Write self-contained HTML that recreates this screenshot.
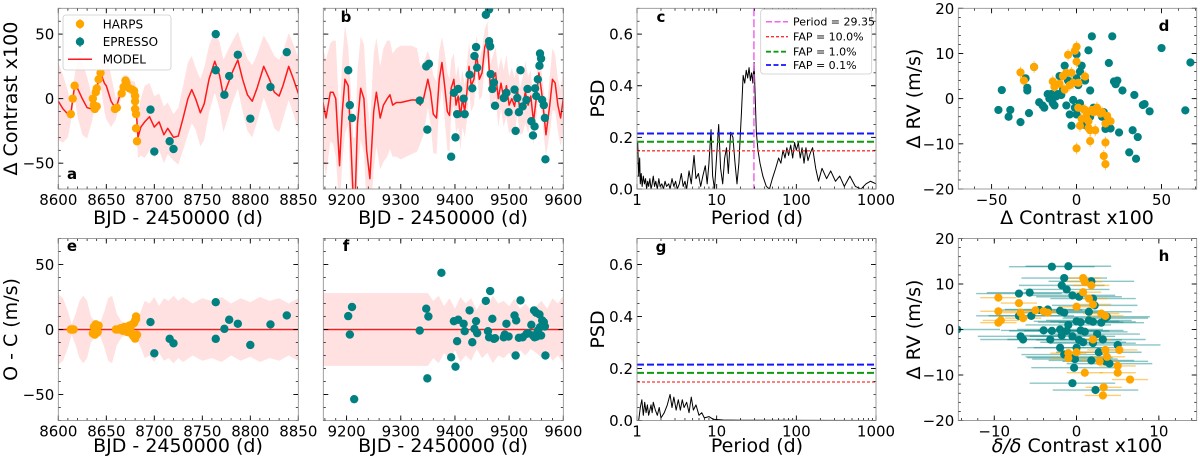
<!DOCTYPE html>
<html><head><meta charset="utf-8">
<style>
html,body{margin:0;padding:0;background:#fff;}
svg{display:block;font-family:"DejaVu Sans","Liberation Sans",sans-serif;}
</style></head>
<body>
<svg id="fig" width="1200" height="459" viewBox="0 0 1200 459" xmlns="http://www.w3.org/2000/svg"></svg>
<script>
// ---------- DATA ----------
const harpsA_x=[8613,8615,8617,8636,8637,8638,8639,8640,8640,8642,8644,8659,8661,8666,8668,8670,8671,8674,8677,8679,8680,8680,8680,8681,8681,8682];
const harpsA_y=[-12,0,10,0,-5,-8,5,-6,8,15,20,-8,-7,4,9,14,12,8,7,6,2,-2,-8,-12,-23,-33];
const espA_x=[8696,8700,8716,8720,8764,8764,8773,8778,8787,8800,8821,8838];
const espA_y=[-8.5,-41,-33,-39,50,22,3,17.5,34,-15.5,9,36];
const modelA_x=[8600,8605,8610,8613,8617,8620,8625,8630,8635,8638,8642,8645,8648,8650,8655,8660,8665,8668,8672,8676,8680,8683,8686,8690,8695,8700,8705,8710,8714,8720,8725,8730,8735,8739,8743,8748,8752,8757,8763,8768,8772,8777,8781,8787,8792,8797,8802,8807,8814,8820,8825,8830,8834,8840,8845,8850];
const modelA_y=[-2,-8,-12,-12,10,8,0,-7,-8,0,15,18,12,10,-2,-8,5,12,12,8,5,-30,-22,-18,-14,-22,-18,-28,-23,-30,-29,-15,0,7,0,-11,-4,15,29,18,2,12,20,30,15,3,-2,8,25,15,5,2,10,25,15,4];
const sigmaA=[30,26,18,6,8,22,28,24,10,6,6,12,22,26,20,8,6,6,6,6,8,16,22,28,26,24,22,22,20,18,22,25,28,26,24,26,28,26,24,26,28,26,24,22,25,28,28,26,24,26,28,28,26,26,27,28];
const espB_x=[9203,9206,9210,9335,9347,9352,9349,9393,9398,9401,9404,9406,9416,9418,9427,9432,9436,9439,9441,9457,9463,9463,9465,9466,9469,9472,9474,9490,9495,9499,9510,9512,9515,9518,9521,9525,9532,9534,9541,9544,9547,9548,9550,9553,9556,9557,9559,9561,9564,9566,9567];
const espB_y=[22,-5,-15,-1.5,25,27,-24,-45,4.5,-30,-12,7.5,0,-12,18.5,8,33,40,24,65,69,44.5,40.5,19,7.5,12.5,-5.5,0.5,4.5,-10.5,7,-25,0.5,-10.5,22,-6,-1,7.5,-17.5,-28.5,-21.5,8,2,15,25.5,35,31,-1,-5,-15,-47];
const modelB_x=[9150,9155,9162,9170,9175,9180,9187,9192,9197,9203,9208,9212,9216,9220,9226,9232,9237,9243,9250,9255,9262,9268,9275,9280,9285,9292,9300,9310,9320,9330,9336,9342,9350,9355,9360,9366,9371,9376,9381,9386,9390,9393,9398,9402,9406,9410,9414,9418,9422,9426,9430,9435,9440,9445,9450,9455,9460,9465,9470,9475,9480,9485,9490,9495,9500,9505,9510,9515,9520,9525,9530,9535,9540,9545,9550,9555,9560,9565,9568,9575,9580,9585,9590,9595,9600];
const modelB_y=[2,0,-15,5,5,0,-52,-10,15,10,-35,-75,-75,-20,8,0,-40,-62,-10,5,-15,-5,0,3,-5,-3,-3,-2,-1,-1,-5,0,15,5,-12,-15,15,28,10,-10,-13,8,15,-5,2,-14,0,-10,5,25,10,15,35,15,20,40,46,10,15,20,0,12,0,10,-5,0,-6,8,-10,-5,5,-5,2,-18,0,20,5,-15,-28,-5,15,12,-5,-15,0];
const sigmaB=[40,42,45,38,40,45,35,40,42,30,40,45,45,42,40,42,45,40,45,42,40,44,45,42,40,42,44,43,42,40,30,28,22,25,30,28,22,20,26,30,28,22,20,22,24,26,22,20,22,18,20,20,14,16,18,14,14,16,18,20,22,20,22,24,22,24,22,20,18,22,24,22,20,18,16,14,16,18,16,22,24,22,20,22,25];
const periodC=[1.02,1.05,1.08,1.1,1.13,1.16,1.2,1.24,1.28,1.32,1.36,1.4,1.45,1.5,1.55,1.6,1.66,1.72,1.8,1.88,1.95,2.05,2.15,2.25,2.35,2.5,2.6,2.75,2.9,3.05,3.2,3.4,3.6,3.8,4.0,4.2,4.5,4.8,5.2,5.5,5.9,6.3,6.7,7.2,7.6,8.0,8.5,8.9,9.4,10,10.6,11.2,11.9,12.6,13.3,14,15,16,17,18,19,20.5,21.5,22.5,23.5,24.5,25.5,26.5,27.5,28.5,29.5,30.5,31.5,33,35,38,42,46,50,55,60,64,68,72,76,80,85,90,95,100,106,112,118,125,132,140,150,160,175,190,210,240,270,310,350,400,470,550,650,750,850,1000];
const psdC=[0.18,0.05,0.12,0.02,0.06,0.01,0.05,0.02,0.04,0.0,0.03,0.01,0.04,0.0,0.02,0.05,0.01,0.03,0.0,0.04,0.01,0.02,0.0,0.03,0.01,0.02,0.0,0.04,0.01,0.03,0.0,0.02,0.06,0.01,0.03,0.0,0.07,0.02,0.13,0.04,0.06,0.01,0.05,0.09,0.02,0.1,0.23,0.05,0.0,0.13,0.25,0.08,0.02,0.12,0.16,0.06,0.22,0.2,0.1,0.02,0.1,0.3,0.44,0.41,0.46,0.43,0.47,0.42,0.45,0.41,0.49,0.35,0.22,0.15,0.1,0.05,0.01,0.0,0.04,0.08,0.12,0.1,0.15,0.12,0.16,0.13,0.17,0.12,0.18,0.15,0.18,0.12,0.16,0.1,0.16,0.11,0.14,0.16,0.08,0.03,0.08,0.04,0.07,0.03,0.05,0.01,0.05,0.01,0.0,0.02,0.03,0.02];
const periodG=[1.05,1.1,1.15,1.2,1.25,1.3,1.35,1.4,1.5,1.55,1.6,1.7,1.8,1.9,2.0,2.2,2.4,2.6,2.75,2.9,3.1,3.3,3.5,3.7,3.9,4.2,4.5,4.8,5.1,5.5,6.0,6.5,7,8,9,12,20,1000];
const psdG=[0.0,0.05,0.08,0.02,0.07,0.03,0.06,0.02,0.06,0.03,0.07,0.04,0.02,0.05,0.01,0.03,0.06,0.1,0.05,0.09,0.04,0.08,0.04,0.08,0.05,0.07,0.03,0.09,0.04,0.06,0.02,0.03,0.01,0.015,0.005,0.002,0.001,0.0];
const fapLevels=[0.148,0.183,0.215];
const fapColors=['#ff3030','#119911','#1515ff'];
const fapLabels=['FAP = 10.0%','FAP =  1.0%','FAP =  0.1%'];
const bestPeriod=29.35;
const espD_x=[-46,-44,-40,-39,-33,-28,-30,-29,-29,-25,-22,-20,-19,-17,-16,-15,-14,-13,-12,-11,-10,-9,-8,-7,-6,-5,-4,-3,-2,-1,0,0,0,1,2,2,3,4,5,5,6,7,8,8,9,10,12,15,16,17,18,19,20,21,22,23,24,25,27,31,33,34,35,36,39,40,43,50,64,67];
const espD_y=[-2.5,1.9,-4,-2.5,-5.2,-3.2,4.5,2.4,1.8,7,-0.8,-1.5,-2,1,0,1,-1,-1.5,0.5,1,5,0.8,2,7.3,-1.5,4,-3.5,-6,-0.3,-2,4.5,-3.5,9.8,3,-1,6,7.3,-5.5,-5.8,4,-6,10.7,1.8,-4,13.8,-2,-2.2,-4,-3,-6.7,-5,7.9,-6.6,13.8,3.8,3.2,4,-7.5,1.8,-11.9,-7,0.8,-13.3,-8.5,-1.4,-1.2,-2.8,11.2,-2.6,8];
const harpsD_x=[-33,-31,-25,-14,-13,-10,-8,-7,-6,-5,-4,-3,-2,-1,0,0,1,1,2,3,4,5,5,6,6,7,7,8,8,9,10,11,12,13,14,15,16,17,17,17,18,20,0];
const harpsD_y=[5.8,4,7,3.8,2.6,3.3,5,2,5.7,9.7,3,5.7,3.5,10.6,8.2,11.5,3.5,-2,-6,-4.5,-2.3,-2.5,4.9,-4.5,-3.2,-5,-6.5,-7,-9.4,-2.5,-3,-7,-2,-2.8,-3.3,-3,-12.7,-14.5,-5.5,-9.7,-3.8,-5,-11];
const harpsE_x=[8613,8614,8615,8616,8636,8637,8638,8639,8640,8641,8642,8660,8662,8665,8667,8669,8670,8672,8674,8675,8676,8677,8678,8679,8680,8680,8681,8681,8682];
const harpsE_y=[0,0,0,0,-3,2,-4,4,0,-2,3,0,0,1,-1,2,0,-2,3,1,-3,4,-5,5,-7,7,8,10,-4];
const espE_x=[8696,8700,8716,8720,8764,8764,8773,8778,8787,8800,8821,8838];
const espE_y=[5.7,-18.3,-7.2,-10.6,21,-7.2,0.5,7.5,4.4,-11.9,3.9,10.8];
const bandE_x=[8600,8605,8610,8614,8618,8622,8626,8630,8634,8639,8644,8648,8652,8656,8661,8666,8671,8676,8681,8686,8690,8695,8700,8705,8710,8715,8720,8725,8730,8740,8750,8760,8770,8780,8790,8800,8810,8820,8830,8840,8850];
const bandE_s=[27,24,14,4,12,22,26,22,10,5,6,14,24,26,12,6,4,5,6,14,22,20,25,18,24,22,26,22,25,20,24,22,25,20,24,21,25,22,24,20,24];
const espF_x=[9203,9206,9210,9214,9335,9347,9349,9351,9375,9393,9398,9401,9404,9406,9416,9418,9427,9432,9436,9439,9441,9457,9461,9463,9465,9469,9472,9474,9490,9492,9495,9499,9510,9512,9513,9518,9521,9525,9532,9535,9541,9544,9546,9547,9550,9551,9553,9556,9557,9559,9561,9564,9566,9567];
const espF_y=[10.3,-3.9,17.3,-53.6,-0.8,16,-37.6,10,43.6,-21.4,6.4,-28.6,-9,7.5,4.4,-1.3,14.7,-9.8,0.5,6.4,-2.8,22,-1.3,-6,29.6,8.2,-7.2,-6.7,-6,-3.9,4.4,-5.4,10.8,-20,7,-6.4,22.4,-6,-3.4,-2.8,3.6,-4.6,14.7,-6,12.9,-5.4,-0.8,11.6,1.8,-4.6,7,5.7,2.3,-20];
const bandF_x=[9150,9200,9250,9300,9350,9360,9370,9380,9390,9400,9410,9420,9430,9440,9450,9460,9470,9480,9490,9500,9510,9520,9530,9540,9550,9560,9570,9580,9590,9600];
const bandF_s=[28,28,28,28,28,22,26,18,24,16,25,20,24,15,22,18,26,20,22,18,24,16,20,15,18,22,16,24,20,26];
const espH_x=[-14.5,-3,-1,-1.5,1.8,-1.8,-1.2,-7,-5.7,-0.5,0.3,2,-3.5,-2,-1.5,1.5,2.2,-7,-5.5,-4.5,-4,-3,-2,-1,0,0.5,1.5,2,3,3.5,3.7,-6.8,-6.5,-3.2,-1.2,-0.5,0.3,1,2,2.5,-2,-1.5,0,0.5,1.8,3.2,3.5,4,-1,-0.8,-0.3,5,-0.5,2.3,-0.2,2.7,0.8,-1.8];
const espH_y=[0,13.8,13.9,11.3,10.6,9.7,8.8,7.9,8.1,7.5,7.2,6.8,4.4,4.1,3.7,3.9,5.3,3,3,4.3,-0.2,-0.3,0,1,1.8,1.6,2,1.7,1.5,2.5,2.8,-1.5,-2.2,-2.2,-0.3,-1.5,-2.3,-0.5,-3,-1,-4,-5.5,-4,-0.2,-6.8,-2.2,-7,-7.5,-6,-6.2,-8.4,-3.4,-11.8,-13.3,-6.5,-5,-2.8,-1.3];
const harpsH_x=[-9.5,-9.5,-9.5,-9.2,-7,-6.8,-6.5,-5,-4,-3.5,0,0.8,1,0.8,1.8,1.5,2,3,3.5,0,-1,1,2,3.5,3.7,2.8,5,5,5.2,6.5,3.3,3.2,-1];
const harpsH_y=[7,4,1.5,2,5.8,3.7,2.5,4.2,4,3.7,5,11.3,10.5,8.2,9.7,6.8,5.5,3.5,3,-5,-6.3,-9.5,-2.2,-4.5,-6,-7,-8,-9.5,-4.5,-11,-12.7,-14.5,-5.2];
const espH_err=5.2, harpsH_err=2.2;

// ---------- DRAWING ----------
const NS='http://www.w3.org/2000/svg';
const fig=document.getElementById('fig');
const ORANGE='#ffa500', TEAL='#008080', BAND='#ffe1e1', RED='#ff1a1a';
function mk(tag,attrs,parent){const e=document.createElementNS(NS,tag);for(const k in attrs)e.setAttribute(k,attrs[k]);(parent||fig).appendChild(e);return e;}
function txt(s,x,y,size,anchor,parent,extra){const t=mk('text',Object.assign({x:x,y:y,'font-size':size,'text-anchor':anchor||'middle',fill:'#000'},extra||{}),parent);t.textContent=s;return t;}

function makePanel(name,L,R,T,B,xmin,xmax,ymin,ymax,log){
  const g=mk('g',{});
  
  
  const sx=log?(v=>L+(Math.log10(v)-Math.log10(xmin))/(Math.log10(xmax)-Math.log10(xmin))*(R-L)):(v=>L+(v-xmin)/(xmax-xmin)*(R-L));
  const sy=v=>B-(v-ymin)/(ymax-ymin)*(B-T);
  const cid='clip-'+name;
  const cp=mk('clipPath',{id:cid},g);
  mk('rect',{x:L,y:T,width:R-L,height:B-T},cp);
  const plot=mk('g',{'clip-path':'url(#'+cid+')'},g);
  
  
  return {g,plot,sx,sy,L,R,T,B};
}
function frame(P,xt,xminor,yt,yminor,showY,xfmt,yfmt){
  const g=P.g;
  for(const v of xminor){const x=P.sx(v);if(x<P.L-0.5||x>P.R+0.5)continue;mk('line',{x1:x,x2:x,y1:P.B,y2:P.B-2.5,stroke:'#000','stroke-width':0.7},g);mk('line',{x1:x,x2:x,y1:P.T,y2:P.T+2.5,stroke:'#000','stroke-width':0.7},g);}
  for(const v of yminor){const y=P.sy(v);mk('line',{x1:P.L,x2:P.L+2.5,y1:y,y2:y,stroke:'#000','stroke-width':0.7},g);mk('line',{x1:P.R,x2:P.R-2.5,y1:y,y2:y,stroke:'#000','stroke-width':0.7},g);}
  for(const v of xt){const x=P.sx(v);mk('line',{x1:x,x2:x,y1:P.B,y2:P.B-5,stroke:'#000','stroke-width':0.9},g);mk('line',{x1:x,x2:x,y1:P.T,y2:P.T+5,stroke:'#000','stroke-width':0.9},g);
    const t=txt(xfmt(v),x,P.B+16,15,'middle',g);
    
    }
  for(const v of yt){const y=P.sy(v);mk('line',{x1:P.L,x2:P.L+5,y1:y,y2:y,stroke:'#000','stroke-width':0.9},g);mk('line',{x1:P.R,x2:P.R-5,y1:y,y2:y,stroke:'#000','stroke-width':0.9},g);
    if(showY){const t=txt(yfmt(v),P.L-4,y+5.5,15,'end',g);
    
    }}
  const r=mk('rect',{x:P.L,y:P.T,width:P.R-P.L,height:P.B-P.T,fill:'none',stroke:'#888','stroke-width':0.8},g);
  
  
}
function range(a,b,s){const o=[];for(let v=a;v<=b+1e-9;v+=s)o.push(+v.toFixed(6));return o;}
const minus=v=>(v<0?'\u2212'+Math.abs(v):''+v);
function logMinor(){const o=[];for(let d=1;d<1000;d*=10)for(let k=2;k<=9;k++)o.push(d*k);return o;}
function dots(P,xs,ys,color,name,r){for(let i=0;i<xs.length;i++){const c=mk('circle',{cx:P.sx(xs[i]),cy:P.sy(ys[i]),r:r||4.2,fill:color},P.plot);
  
  }}
function band(P,xs,center,sig,name){let up='',lo='';for(let i=0;i<xs.length;i++){up+=(i?'L':'M')+P.sx(xs[i])+','+P.sy(center[i]+sig[i]);}
  for(let i=xs.length-1;i>=0;i--){lo+='L'+P.sx(xs[i])+','+P.sy(center[i]-sig[i]);}
  const p=mk('path',{d:up+lo+'Z',fill:BAND,stroke:'none'},P.plot);
  
  }
function line(P,xs,ys,color,w,name,dash){let d='';for(let i=0;i<xs.length;i++)d+=(i?'L':'M')+P.sx(xs[i]).toFixed(2)+','+P.sy(ys[i]).toFixed(2);
  const p=mk('path',{d:d,fill:'none',stroke:color,'stroke-width':w,'stroke-dasharray':dash||'none','stroke-linejoin':'round'},P.plot);
  
  }
function hline(P,y,color,w,name,dash){const l=mk('line',{x1:P.L,x2:P.R,y1:P.sy(y),y2:P.sy(y),stroke:color,'stroke-width':w,'stroke-dasharray':dash||'none'},P.plot);
  
  }
function letter(P,s,x,y){const t=txt(s,x,y,15,'middle',P.g,{'font-weight':'bold'});
  
  }
function zeros(n){return new Array(n).fill(0);}

const TOP=[8.3,189], BOT=[238.5,420.5];
const XA=[58.3,298.3], XB=[323.3,563.3], XC=[637,876], XD=[958.3,1196.7];
// Panel a
const A=makePanel('panel-a',XA[0],XA[1],TOP[0],TOP[1],8600,8850,-70,70);
band(A,modelA_x,modelA_y,sigmaA,'model-uncertainty-band');
line(A,modelA_x,modelA_y,RED,1.5,'model-line');
dots(A,harpsA_x,harpsA_y,ORANGE,'harps-point');
dots(A,espA_x,espA_y,TEAL,'espresso-point');
frame(A,range(8600,8850,50),range(8600,8850,10),[-50,0,50],range(-70,70,10),true,v=>''+v,minus);
letter(A,'a',72,179);
// Legend in a
const lg=mk('g',{});


mk('rect',{x:63,y:15,width:108,height:55,rx:3,fill:'#fff',stroke:'#ccc','stroke-width':0.8,'fill-opacity':0.85},lg);
mk('line',{x1:80,x2:80,y1:19,y2:29,stroke:ORANGE,'stroke-width':1},lg);
mk('circle',{cx:80,cy:24,r:4.2,fill:ORANGE},lg);
let t=txt('HARPS',102.7,28.5,12,'start',lg);


mk('line',{x1:80,x2:80,y1:37,y2:47,stroke:TEAL,'stroke-width':1},lg);
mk('circle',{cx:80,cy:41.7,r:4.2,fill:TEAL},lg);
t=txt('EPRESSO',102.7,46,12,'start',lg);


mk('line',{x1:68,x2:92,y1:59.3,y2:59.3,stroke:RED,'stroke-width':1.5},lg);
t=txt('MODEL',102.7,63.5,12,'start',lg);



// Panel b
const Bp=makePanel('panel-b',XB[0],XB[1],TOP[0],TOP[1],9157,9600,-70,70);
band(Bp,modelB_x,modelB_y,sigmaB,'model-uncertainty-band');
line(Bp,modelB_x,modelB_y,RED,1.5,'model-line');
dots(Bp,espB_x,espB_y,TEAL,'espresso-point');
frame(Bp,range(9200,9600,100),range(9160,9600,20),[-50,0,50],range(-70,70,10),false,v=>''+v,minus);
letter(Bp,'b',346,22);

// Panel c
const C=makePanel('panel-c',XC[0],XC[1],TOP[0],TOP[1],1,1000,0,0.7,true);
line(C,periodC,psdC,'#000',1,'periodogram-line');
fapLevels.forEach((v,i)=>{hline(C,v,fapColors[i],i==0?1.3:2,'fap-line',i==0?'3,2':'7,3');});
(function(){const l=mk('line',{x1:C.sx(bestPeriod),x2:C.sx(bestPeriod),y1:C.T,y2:C.B,stroke:'#ee66ee','stroke-width':1.5,'stroke-dasharray':'8,3'},C.plot);

})();
frame(C,[1,10,100,1000],logMinor(),[0,0.2,0.4,0.6],range(0,0.7,0.05),true,v=>''+v,v=>v.toFixed(1));
letter(C,'c',661,22);
const lc=mk('g',{});


mk('rect',{x:760.7,y:9.3,width:111,height:64.7,rx:3,fill:'#fff',stroke:'#ccc','stroke-width':0.8},lc);
mk('line',{x1:766,x2:788,y1:21.7,y2:21.7,stroke:'#ee66ee','stroke-width':1.5,'stroke-dasharray':'6,2.5'},lc);
t=txt('Period = 29.35',793,25.7,11,'start',lc);


const legY=[36.7,51.7,65];
for(let i=0;i<3;i++){mk('line',{x1:766,x2:788,y1:legY[i],y2:legY[i],stroke:fapColors[i],'stroke-width':i==0?1.3:1.8,'stroke-dasharray':i==0?'3,2':'5,2.5'},lc);
  const tt=txt(fapLabels[i],793,legY[i]+4,11,'start',lc,{'xml:space':'preserve'});
  
  }

// Panel d
const D=makePanel('panel-d',XD[0],XD[1],TOP[0],TOP[1],-69.6,70.7,-20,20);
for(let i=0;i<harpsD_x.length;i++){const x=D.sx(harpsD_x[i]),y=D.sy(harpsD_y[i]);mk('line',{x1:x,x2:x,y1:y-6,y2:y+6,stroke:ORANGE,'stroke-width':1,'stroke-opacity':0.6},D.plot);}
dots(D,espD_x,espD_y,TEAL,'espresso-point',4.1);
dots(D,harpsD_x,harpsD_y,ORANGE,'harps-point',4.1);
frame(D,[-50,0,50],range(-60,70,10),[-20,-10,0,10,20],range(-20,20,2),true,minus,minus);
letter(D,'d',1164,31);

// Panel e
const E=makePanel('panel-e',XA[0],XA[1],BOT[0],BOT[1],8600,8850,-70,70);
band(E,bandE_x,zeros(bandE_x.length),bandE_s,'residual-band');
hline(E,1.2,'#fff',1,'zero-line-highlight');
hline(E,0,RED,1.6,'zero-line');
dots(E,harpsE_x,harpsE_y,ORANGE,'harps-residual');
dots(E,espE_x,espE_y,TEAL,'espresso-residual');
frame(E,range(8600,8850,50),range(8600,8850,10),[-50,0,50],range(-70,70,10),true,v=>''+v,minus);
letter(E,'e',72,251);

// Panel f
const F=makePanel('panel-f',XB[0],XB[1],BOT[0],BOT[1],9157,9600,-70,70);
band(F,bandF_x,zeros(bandF_x.length),bandF_s,'residual-band');
hline(F,1.2,'#fff',1,'zero-line-highlight');
hline(F,0,RED,1.6,'zero-line');
dots(F,espF_x,espF_y,TEAL,'espresso-residual');
frame(F,range(9200,9600,100),range(9160,9600,20),[-50,0,50],range(-70,70,10),false,v=>''+v,minus);
letter(F,'f',346,251);

// Panel g
const G=makePanel('panel-g',XC[0],XC[1],BOT[0],BOT[1],1,1000,0,0.7,true);
line(G,periodG,psdG,'#000',1,'periodogram-line');
fapLevels.forEach((v,i)=>{hline(G,v,fapColors[i],i==0?1.3:2,'fap-line',i==0?'3,2':'7,3');});
frame(G,[1,10,100,1000],logMinor(),[0,0.2,0.4,0.6],range(0,0.7,0.05),true,v=>''+v,v=>v.toFixed(1));
letter(G,'g',661,252);

// Panel h
const H=makePanel('panel-h',XD[0],XD[1],BOT[0],BOT[1],-14.37,14.6,-20,20);
for(let i=0;i<espH_x.length;i++){const y=H.sy(espH_y[i]);const l=mk('line',{x1:H.sx(espH_x[i]-espH_err),x2:H.sx(espH_x[i]+espH_err),y1:y,y2:y,stroke:TEAL,'stroke-width':1.4,'stroke-opacity':0.45},H.plot);
  }
for(let i=0;i<harpsH_x.length;i++){const y=H.sy(harpsH_y[i]);const l=mk('line',{x1:H.sx(harpsH_x[i]-harpsH_err),x2:H.sx(harpsH_x[i]+harpsH_err),y1:y,y2:y,stroke:ORANGE,'stroke-width':1.4,'stroke-opacity':0.55},H.plot);
  }
dots(H,espH_x,espH_y,TEAL,'espresso-point',4.1);
dots(H,harpsH_x,harpsH_y,ORANGE,'harps-point',4.1);
frame(H,[-10,0,10],range(-14,14,2),[-20,-10,0,10,20],range(-20,20,2),true,minus,minus);
letter(H,'h',1164,261);

// Axis titles
function label(s,x,y,rot,name,size){const t=txt(s,x,y,size||19,'middle',null,rot?{transform:'rotate(-90 '+x+' '+y+')'}:{});
  
  return t;}
label('\u0394 Contrast x100',17,98.6,true,'y-axis-title-a');
label('O - C (m/s)',17,329.5,true,'y-axis-title-e');
label('PSD',604,98.6,true,'y-axis-title-c');
label('PSD',604,329.5,true,'y-axis-title-g');
label('\u0394 RV (m/s)',920,98.6,true,'y-axis-title-d');
label('\u0394 RV (m/s)',920,329.5,true,'y-axis-title-h');
const XT1=224, XT2=452;
label('BJD - 2450000 (d)',178,XT1,false,'x-axis-title-a');
label('BJD - 2450000 (d)',443,XT1,false,'x-axis-title-b');
label('Period (d)',757,XT1,false,'x-axis-title-c');
label('\u0394 Contrast x100',1077,XT1,false,'x-axis-title-d');
label('BJD - 2450000 (d)',178,XT2,false,'x-axis-title-e');
label('BJD - 2450000 (d)',443,XT2,false,'x-axis-title-f');
label('Period (d)',757,XT2,false,'x-axis-title-g');
(function(){const t=mk('text',{x:1077,y:XT2,'font-size':19,'text-anchor':'middle'});


const a=mk('tspan',{'font-style':'italic'},t);a.textContent='\u03b4/\u03b4';
const b=mk('tspan',{},t);b.textContent=' Contrast x100';})();
</script>
</body></html>
